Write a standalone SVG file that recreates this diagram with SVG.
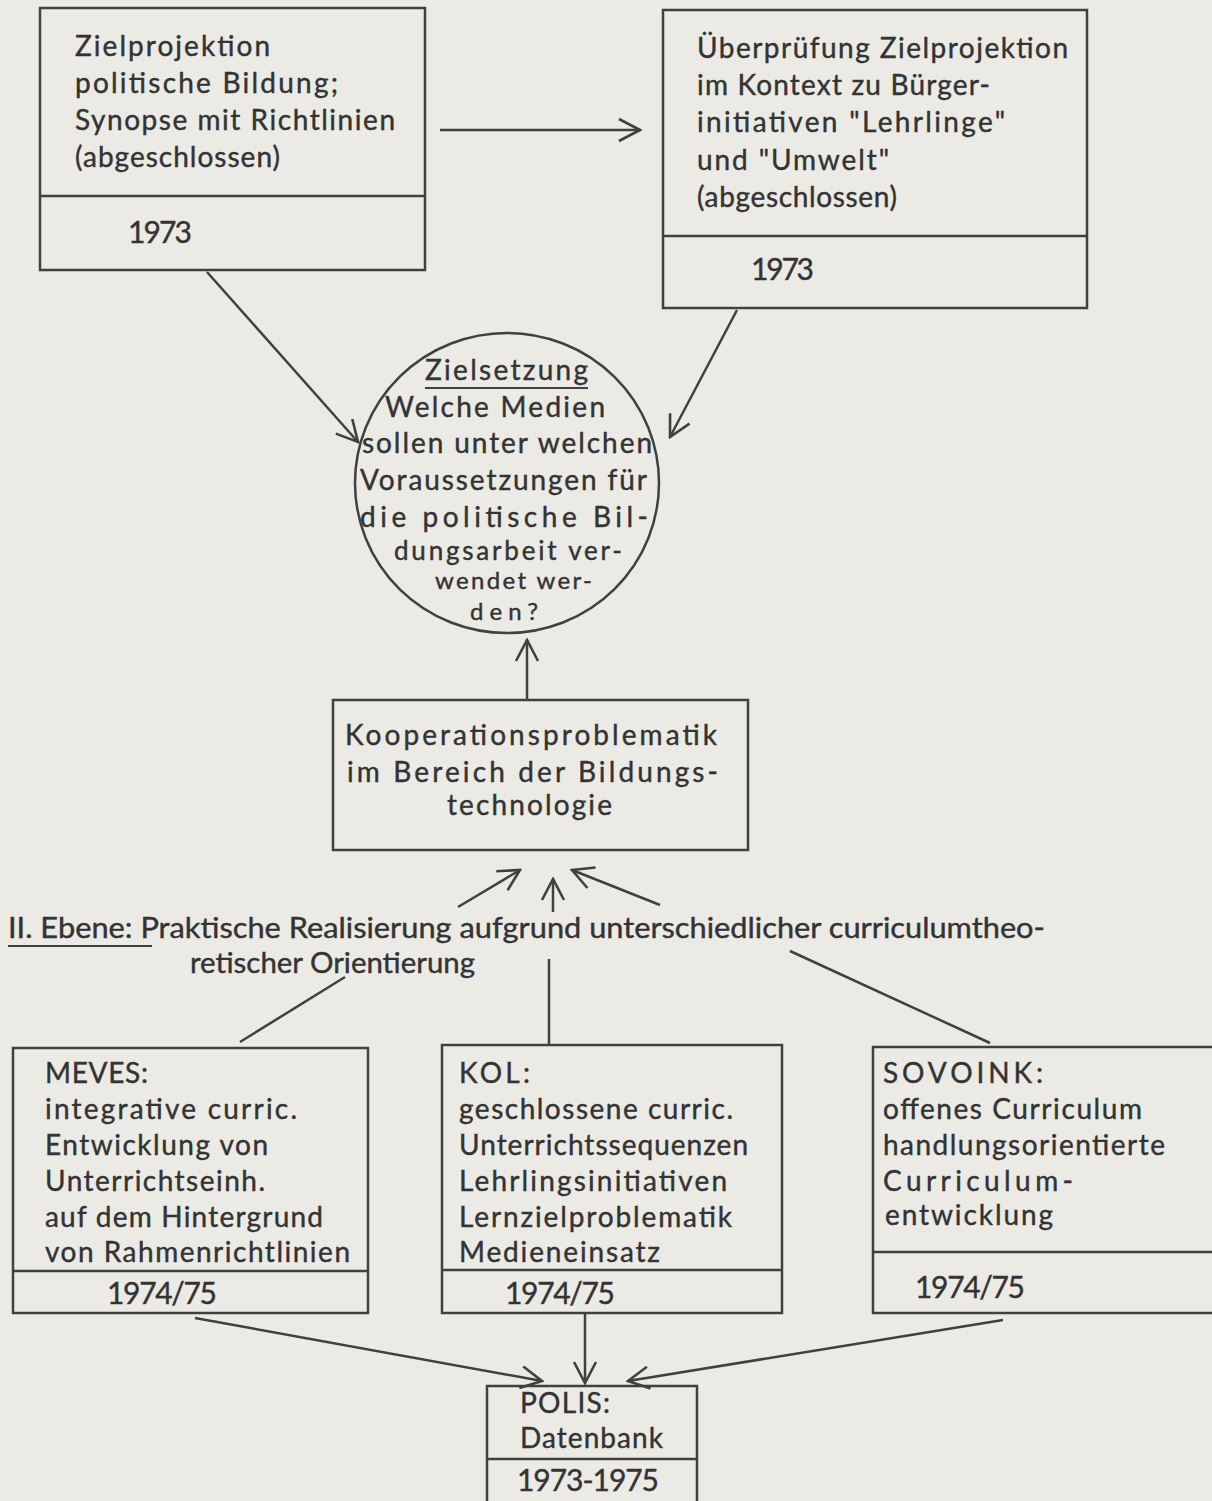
<svg xmlns="http://www.w3.org/2000/svg" width="1212" height="1501" viewBox="0 0 1212 1501">
<defs>
<style>
.t{font-family:Lato,"Noto Sans","Liberation Sans",sans-serif;font-size:28px;fill:#333;stroke:#333;stroke-width:0.4}
.s{font-size:26px}
.xs{font-size:24px}
.y{font-family:Lato,"Noto Sans","Liberation Sans",sans-serif;font-size:30px;fill:#333;stroke:#333;stroke-width:0.4}
.lb{font-family:Lato,"Noto Sans","Liberation Sans",sans-serif;font-size:29px;fill:#333;stroke:#333;stroke-width:0.4}
.bx{fill:none;stroke:#404040;stroke-width:2.5}
.ln{stroke:#404040;stroke-width:2.5;fill:none}
.ul{stroke:#404040;stroke-width:2}
</style>
<marker id="ah" viewBox="0 0 26 26" refX="24" refY="13" markerWidth="26" markerHeight="26" markerUnits="userSpaceOnUse" orient="auto">
<path d="M3,2 L24,13 L3,24" fill="none" stroke="#404040" stroke-width="2.6"/>
</marker>
</defs>
<rect width="1212" height="1501" fill="#ebeae5"/>

<g id="n1">
<rect class="bx" x="40" y="8" width="385" height="262"/>
<line class="ln" x1="40" y1="196" x2="425" y2="196"/>
<text class="t" x="75" y="56" textLength="195" lengthAdjust="spacing">Zielprojektion</text>
<text class="t" x="75" y="93" textLength="263" lengthAdjust="spacing">politische Bildung;</text>
<text class="t" x="75" y="130" textLength="320" lengthAdjust="spacing">Synopse mit Richtlinien</text>
<text class="t" x="75" y="167" textLength="205" lengthAdjust="spacing">(abgeschlossen)</text>
<text class="y" x="128" y="243" textLength="64" lengthAdjust="spacing">1973</text>
</g>

<g id="n2">
<rect class="bx" x="663" y="10" width="424" height="298"/>
<line class="ln" x1="663" y1="236" x2="1087" y2="236"/>
<text class="t" x="697" y="58" textLength="371" lengthAdjust="spacing">Überprüfung Zielprojektion</text>
<text class="t" x="697" y="95" textLength="293" lengthAdjust="spacing">im Kontext zu Bürger-</text>
<text class="t" x="697" y="132" textLength="308" lengthAdjust="spacing">initiativen "Lehrlinge"</text>
<text class="t" x="697" y="170" textLength="192" lengthAdjust="spacing">und "Umwelt"</text>
<text class="t" x="697" y="207" textLength="200" lengthAdjust="spacing">(abgeschlossen)</text>
<text class="y" x="751" y="280" textLength="63" lengthAdjust="spacing">1973</text>
</g>

<g id="n3">
<ellipse class="bx" cx="507" cy="483" rx="152" ry="150"/>
<text class="t" x="425" y="380" textLength="163" lengthAdjust="spacing">Zielsetzung</text>
<line class="ul" x1="425" y1="388" x2="588" y2="388"/>
<text class="t" x="385" y="417" textLength="220" lengthAdjust="spacing">Welche Medien</text>
<text class="t" x="362" y="453" textLength="290" lengthAdjust="spacing">sollen unter welchen</text>
<text class="t" x="360" y="490" textLength="287" lengthAdjust="spacing">Voraussetzungen für</text>
<text class="t" x="360" y="527" textLength="288" lengthAdjust="spacing">die politische Bil-</text>
<text class="t s" x="394" y="560" textLength="228" lengthAdjust="spacing">dungsarbeit ver-</text>
<text class="t xs" x="435" y="589" textLength="157" lengthAdjust="spacing">wendet wer-</text>
<text class="t xs" x="470" y="620" textLength="68" lengthAdjust="spacing">den?</text>
</g>

<g id="n4">
<rect class="bx" x="333" y="700" width="415" height="150"/>
<text class="t" x="345" y="745" textLength="372" lengthAdjust="spacing">Kooperationsproblematik</text>
<text class="t" x="347" y="782" textLength="371" lengthAdjust="spacing">im Bereich der Bildungs-</text>
<text class="t" x="447" y="815" textLength="165" lengthAdjust="spacing">technologie</text>
</g>

<g id="n5">
<text class="lb" x="8" y="938" textLength="1037" lengthAdjust="spacingAndGlyphs">II. Ebene: Praktische Realisierung aufgrund unterschiedlicher curriculumtheo-</text>
<line class="ul" x1="8" y1="946" x2="152" y2="946"/>
<text class="lb" x="190" y="973" textLength="285" lengthAdjust="spacingAndGlyphs">retischer Orientierung</text>
</g>

<g id="n6">
<rect class="bx" x="13" y="1048" width="355" height="265"/>
<line class="ln" x1="13" y1="1271" x2="368" y2="1271"/>
<text class="t" x="45" y="1083" textLength="103" lengthAdjust="spacing">MEVES:</text>
<text class="t" x="45" y="1119" textLength="252" lengthAdjust="spacing">integrative curric.</text>
<text class="t" x="45" y="1155" textLength="223" lengthAdjust="spacing">Entwicklung von</text>
<text class="t" x="45" y="1191" textLength="220" lengthAdjust="spacing">Unterrichtseinh.</text>
<text class="t" x="45" y="1227" textLength="278" lengthAdjust="spacing">auf dem Hintergrund</text>
<text class="t" x="45" y="1262" textLength="305" lengthAdjust="spacing">von Rahmenrichtlinien</text>
<text class="y" x="107" y="1304" textLength="110" lengthAdjust="spacing">1974/75</text>
</g>

<g id="n7">
<rect class="bx" x="442" y="1045" width="340" height="268"/>
<line class="ln" x1="442" y1="1270" x2="782" y2="1270"/>
<text class="t" x="459" y="1083" textLength="71" lengthAdjust="spacing">KOL:</text>
<text class="t" x="459" y="1119" textLength="274" lengthAdjust="spacing">geschlossene curric.</text>
<text class="t" x="459" y="1155" textLength="289" lengthAdjust="spacing">Unterrichtssequenzen</text>
<text class="t" x="459" y="1191" textLength="268" lengthAdjust="spacing">Lehrlingsinitiativen</text>
<text class="t" x="459" y="1227" textLength="273" lengthAdjust="spacing">Lernzielproblematik</text>
<text class="t" x="459" y="1262" textLength="201" lengthAdjust="spacing">Medieneinsatz</text>
<text class="y" x="505" y="1304" textLength="110" lengthAdjust="spacing">1974/75</text>
</g>

<g id="n8">
<rect class="bx" x="873" y="1047" width="360" height="266"/>
<line class="ln" x1="873" y1="1252" x2="1212" y2="1252"/>
<text class="t" x="883" y="1083" textLength="160" lengthAdjust="spacing">SOVOINK:</text>
<text class="t" x="883" y="1119" textLength="259" lengthAdjust="spacing">offenes Curriculum</text>
<text class="t" x="883" y="1155" textLength="282" lengthAdjust="spacing">handlungsorientierte</text>
<text class="t" x="883" y="1191" textLength="190" lengthAdjust="spacing">Curriculum-</text>
<text class="t" x="885" y="1225" textLength="168" lengthAdjust="spacing">entwicklung</text>
<text class="y" x="915" y="1298" textLength="110" lengthAdjust="spacing">1974/75</text>
</g>

<g id="n9">
<rect class="bx" x="487" y="1386" width="210" height="130"/>
<line class="ln" x1="487" y1="1459" x2="697" y2="1459"/>
<text class="t" x="520" y="1413" textLength="90" lengthAdjust="spacing">POLIS:</text>
<text class="t" x="520" y="1448" textLength="143" lengthAdjust="spacing">Datenbank</text>
<text class="y" x="517" y="1491" textLength="142" lengthAdjust="spacing">1973-1975</text>
</g>

<g id="connectors">
<line class="ln" x1="440" y1="130" x2="640" y2="130" marker-end="url(#ah)"/>
<line class="ln" x1="207" y1="272" x2="358" y2="442" marker-end="url(#ah)"/>
<line class="ln" x1="737" y1="310" x2="670" y2="437" marker-end="url(#ah)"/>
<line class="ln" x1="527" y1="700" x2="527" y2="640" marker-end="url(#ah)"/>
<line class="ln" x1="458" y1="907" x2="520" y2="870" marker-end="url(#ah)"/>
<line class="ln" x1="553" y1="912" x2="553" y2="879" marker-end="url(#ah)"/>
<line class="ln" x1="660" y1="905" x2="572" y2="870" marker-end="url(#ah)"/>
<line class="ln" x1="345" y1="977" x2="240" y2="1042"/>
<line class="ln" x1="549" y1="959" x2="549" y2="1045"/>
<line class="ln" x1="790" y1="951" x2="990" y2="1043"/>
<line class="ln" x1="195" y1="1318" x2="542" y2="1381" marker-end="url(#ah)"/>
<line class="ln" x1="585" y1="1313" x2="585" y2="1383" marker-end="url(#ah)"/>
<line class="ln" x1="1003" y1="1320" x2="628" y2="1381" marker-end="url(#ah)"/>
</g>
</svg>
